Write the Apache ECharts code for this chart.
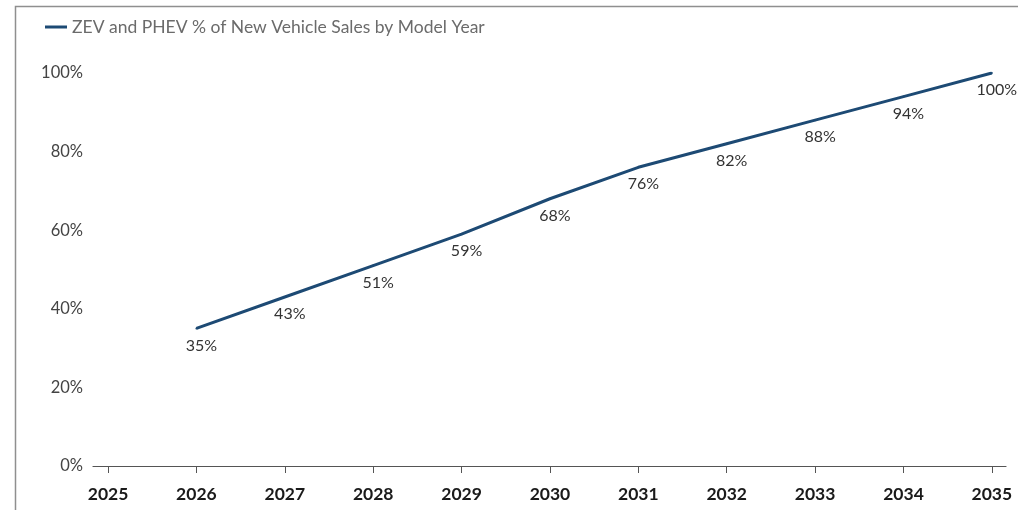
<!DOCTYPE html>
<html>
<head>
<meta charset="utf-8">
<script src="https://cdn.jsdelivr.net/npm/echarts@6/dist/echarts.min.js"></script>
<style>
  html, body { margin: 0; padding: 0; background: #fff; }
  #chart { width: 1018px; height: 510px; }
</style>
</head>
<body>
<div id="chart"></div>
<script>
// Model years and the share of new vehicle sales that must be ZEV or PHEV
const years = [2025, 2026, 2027, 2028, 2029, 2030, 2031, 2032, 2033, 2034, 2035];
const seriesYears = [2026, 2027, 2028, 2029, 2030, 2031, 2032, 2033, 2034, 2035];
const sharePct = [35, 43, 51, 59, 68, 76, 82, 88, 94, 100];
const seriesName = 'ZEV and PHEV % of New Vehicle Sales by Model Year';

const FONT = 'Lato, "Open Sans", sans-serif';
const LINE_COLOR = '#1d4a74';

const chart = echarts.init(document.getElementById('chart'), null, { renderer: 'canvas' });

chart.setOption({
  animation: false,
  backgroundColor: '#ffffff',
  graphic: [
    {
      type: 'polyline',
      silent: true,
      shape: { points: [[15.5, 510], [15.5, 6.5], [1018, 6.5]] },
      style: { stroke: '#8f8f8f', lineWidth: 1.5, fill: null }
    }
  ],
  legend: {
    left: 40,
    top: 13,
    icon: 'rect',
    itemWidth: 22,
    itemHeight: 3,
    itemGap: 10,
    itemStyle: { color: LINE_COLOR, opacity: 1 },
    textStyle: { fontFamily: FONT, fontSize: 17.5, color: '#6b6b6b' },
    data: [seriesName]
  },
  grid: { left: 93, right: 12, top: 73, bottom: 44, containLabel: false },
  xAxis: {
    type: 'value',
    min: 2024.83,
    max: 2035.16,
    splitLine: { show: false },
    axisLine: { show: true, onZero: false, lineStyle: { color: '#555', width: 1.2 } },
    axisTick: { show: true, length: 7, lineStyle: { color: '#555' }, customValues: years },
    axisLabel: {
      customValues: years,
      margin: 19,
      fontFamily: FONT,
      fontSize: 17.5,
      fontWeight: 'bold',
      color: '#1a1a1a',
      formatter: v => String(v)
    }
  },
  yAxis: {
    type: 'value',
    min: 0,
    max: 100,
    interval: 20,
    splitLine: { show: false },
    axisLine: { show: false },
    axisTick: { show: false },
    axisLabel: {
      margin: 10,
      fontFamily: FONT,
      fontSize: 16.5,
      color: '#444',
      formatter: v => v + '%'
    }
  },
  series: [
    {
      name: seriesName,
      type: 'line',
      data: seriesYears.map((y, i) => [y, sharePct[i]]),
      symbol: 'circle',
      symbolSize: 2,
      showSymbol: true,
      lineStyle: { color: LINE_COLOR, width: 3 },
      itemStyle: { color: LINE_COLOR },
      label: {
        show: true,
        position: 'bottom',
        distance: 8,
        fontFamily: FONT,
        fontSize: 16,
        color: '#333',
        formatter: p => p.value[1] + '%'
      },
      labelLayout: { dx: 5, hideOverlap: false }
    }
  ]
});
</script>
</body>
</html>
